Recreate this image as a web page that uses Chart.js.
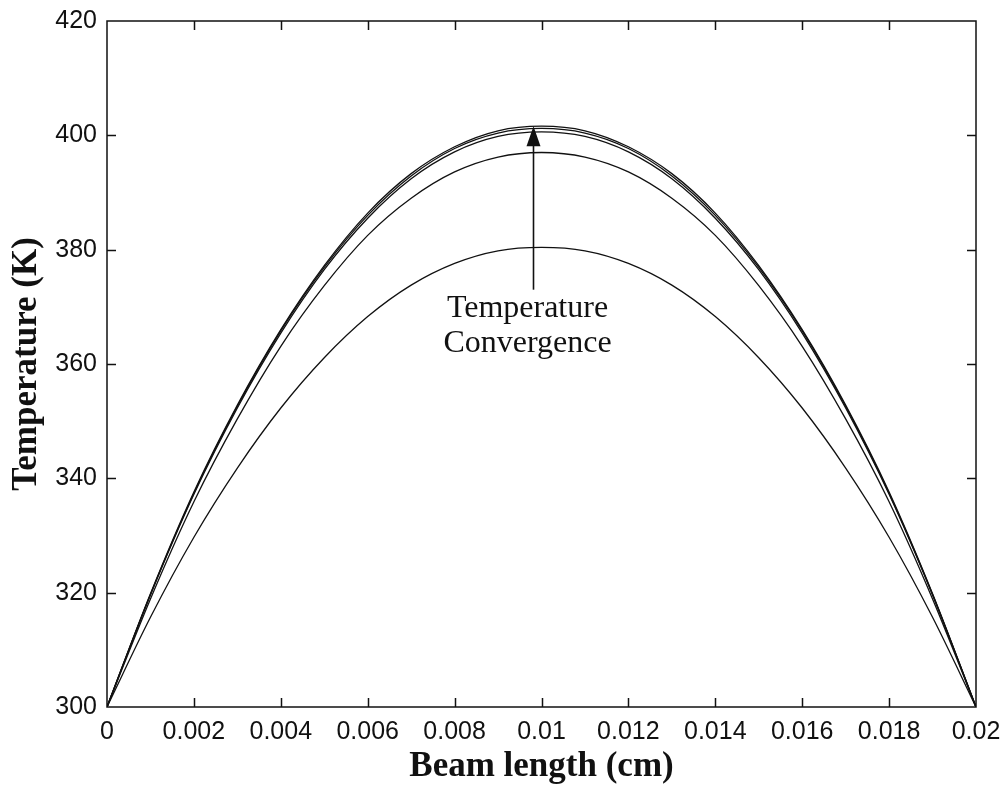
<!DOCTYPE html>
<html>
<head>
<meta charset="utf-8">
<script src="https://cdn.jsdelivr.net/npm/chart.js@4.4.0/dist/chart.umd.min.js"></script>
<style>
  html, body { margin: 0; padding: 0; background: #fff; }
  #wrap { width: 1004px; height: 788px; }
</style>
</head>
<body>
<div id="wrap"><canvas id="lineChart" width="1004" height="788"></canvas></div>
<script>
// beam positions (cm)
const xs = [0, 0.001, 0.002, 0.003, 0.004, 0.005, 0.006, 0.007, 0.008, 0.009, 0.01,
  0.011, 0.012, 0.013, 0.014, 0.015, 0.016, 0.017, 0.018, 0.019, 0.02];

// temperature profiles (K), one per iteration
const iter1 = [300, 315.7, 329.7, 341.8, 352.3, 361.1, 368.3, 373.8, 377.6, 379.8, 380.4,
  379.8, 377.6, 373.8, 368.3, 361.1, 352.3, 341.8, 329.7, 315.7, 300];
const iter2 = [300, 318.9, 335.9, 350.4, 363.1, 373.7, 382.5, 389.0, 393.6, 396.2, 397.0,
  396.2, 393.6, 389.0, 382.5, 373.7, 363.1, 350.4, 335.9, 318.9, 300];
const iter3 = [300, 319.6, 337.2, 352.3, 365.4, 376.5, 385.5, 392.4, 397.1, 399.8, 400.6,
  399.8, 397.1, 392.4, 385.5, 376.5, 365.4, 352.3, 337.2, 319.6, 300];
const iter4 = [300, 319.7, 337.4, 352.6, 365.8, 376.9, 386.0, 392.9, 397.7, 400.4, 401.2,
  400.4, 397.7, 392.9, 386.0, 376.9, 365.8, 352.6, 337.4, 319.7, 300];
const iter5 = [300, 319.8, 337.6, 352.8, 366.0, 377.2, 386.4, 393.3, 398.0, 400.8, 401.6,
  400.8, 398.0, 393.3, 386.4, 377.2, 366.0, 352.8, 337.6, 319.8, 300];

const xTicks = [0, 0.002, 0.004, 0.006, 0.008, 0.01, 0.012, 0.014, 0.016, 0.018, 0.02];
const yTicks = [300, 320, 340, 360, 380, 400, 420];

// arrow annotation
const arrowX = 0.0098;
const arrowFrom = 373;
const arrowTo = 401.6;
const noteLines = ["Temperature", "Convergence"];

function toPoints(ys) {
  return xs.map((x, i) => ({ x: x, y: ys[i] }));
}

function series(ys) {
  return {
    data: toPoints(ys),
    borderColor: "#111",
    borderWidth: 1.3,
    pointRadius: 0,
    fill: false,
    cubicInterpolationMode: "monotone",
  };
}

const boxPlugin = {
  id: "box",
  beforeDraw(chart) {
    const c = chart.ctx;
    c.save();
    c.fillStyle = "#fff";
    c.fillRect(0, 0, chart.width, chart.height);
    c.restore();
  },
  afterDraw(chart) {
    const c = chart.ctx;
    const a = chart.chartArea;
    const sx = chart.scales.x, sy = chart.scales.y;
    c.save();
    c.strokeStyle = "#111";
    c.lineWidth = 1.5;
    c.strokeRect(a.left, a.top, a.right - a.left, a.bottom - a.top);
    // inward ticks on all four sides
    const len = 9;
    c.beginPath();
    xTicks.slice(1, -1).forEach(v => {
      const px = Math.round(sx.getPixelForValue(v)) + 0.5;
      c.moveTo(px, a.bottom); c.lineTo(px, a.bottom - len);
      c.moveTo(px, a.top); c.lineTo(px, a.top + len);
    });
    yTicks.slice(1, -1).forEach(v => {
      const py = Math.round(sy.getPixelForValue(v)) + 0.5;
      c.moveTo(a.left, py); c.lineTo(a.left + len, py);
      c.moveTo(a.right, py); c.lineTo(a.right - len, py);
    });
    c.stroke();

    // arrow
    const ax = Math.round(sx.getPixelForValue(arrowX)) + 0.5;
    const y0 = sy.getPixelForValue(arrowFrom);
    const y1 = sy.getPixelForValue(arrowTo);
    c.lineWidth = 1.6;
    c.beginPath();
    c.moveTo(ax, y0);
    c.lineTo(ax, y1 + 18);
    c.stroke();
    c.fillStyle = "#111";
    c.beginPath();
    c.moveTo(ax, y1);
    c.lineTo(ax - 7, y1 + 20);
    c.lineTo(ax + 7, y1 + 20);
    c.closePath();
    c.fill();

    // note text
    c.font = "32px 'Liberation Serif', 'Times New Roman', serif";
    c.textAlign = "center";
    c.textBaseline = "middle";
    noteLines.forEach((t, i) => {
      c.fillText(t, ax - 6, y0 + 19 + i * 35);
    });
    c.restore();
  },
};

const ctxL = document.getElementById("lineChart").getContext("2d");
const myLineChart = new Chart(ctxL, {
  type: "line",
  data: {
    datasets: [series(iter1), series(iter2), series(iter3), series(iter4), series(iter5)],
  },
  options: {
    responsive: false,
    animation: false,
    layout: { padding: { top: 21, right: 28, left: 0, bottom: 0 } },
    plugins: { legend: { display: false }, tooltip: { enabled: false } },
    scales: {
      x: {
        type: "linear",
        min: 0,
        max: 0.02,
        afterBuildTicks: s => { s.ticks = xTicks.map(v => ({ value: v })); },
        afterFit: s => { s.height = 81; s.paddingLeft = 0; s.paddingRight = 0; },
        grid: { display: true, drawOnChartArea: false, drawTicks: false },
        border: { display: false },
        ticks: {
          color: "#111",
          padding: 10,
          maxRotation: 0,
          autoSkip: false,
          font: { family: "'Liberation Sans', Arial, sans-serif", size: 25 },
          callback: v => parseFloat(Number(v).toFixed(4)).toString(),
        },
        title: {
          display: true,
          text: "Beam length (cm)",
          color: "#111",
          padding: { top: 0, bottom: 0 },
          font: { family: "'Liberation Serif', 'Times New Roman', serif", size: 35, weight: "bold" },
        },
      },
      y: {
        min: 300,
        max: 420,
        afterBuildTicks: s => { s.ticks = yTicks.map(v => ({ value: v })); },
        afterFit: s => { s.width = 107; s.paddingTop = 0; s.paddingBottom = 0; },
        grid: { display: true, drawOnChartArea: false, drawTicks: false },
        border: { display: false },
        ticks: {
          color: "#111",
          padding: 10,
          font: { family: "'Liberation Sans', Arial, sans-serif", size: 25 },
        },
        title: {
          display: true,
          text: "Temperature (K)",
          color: "#111",
          padding: { top: 6, bottom: 0 },
          font: { family: "'Liberation Serif', 'Times New Roman', serif", size: 35, weight: "bold" },
        },
      },
    },
  },
  plugins: [boxPlugin],
});
</script>
</body>
</html>
